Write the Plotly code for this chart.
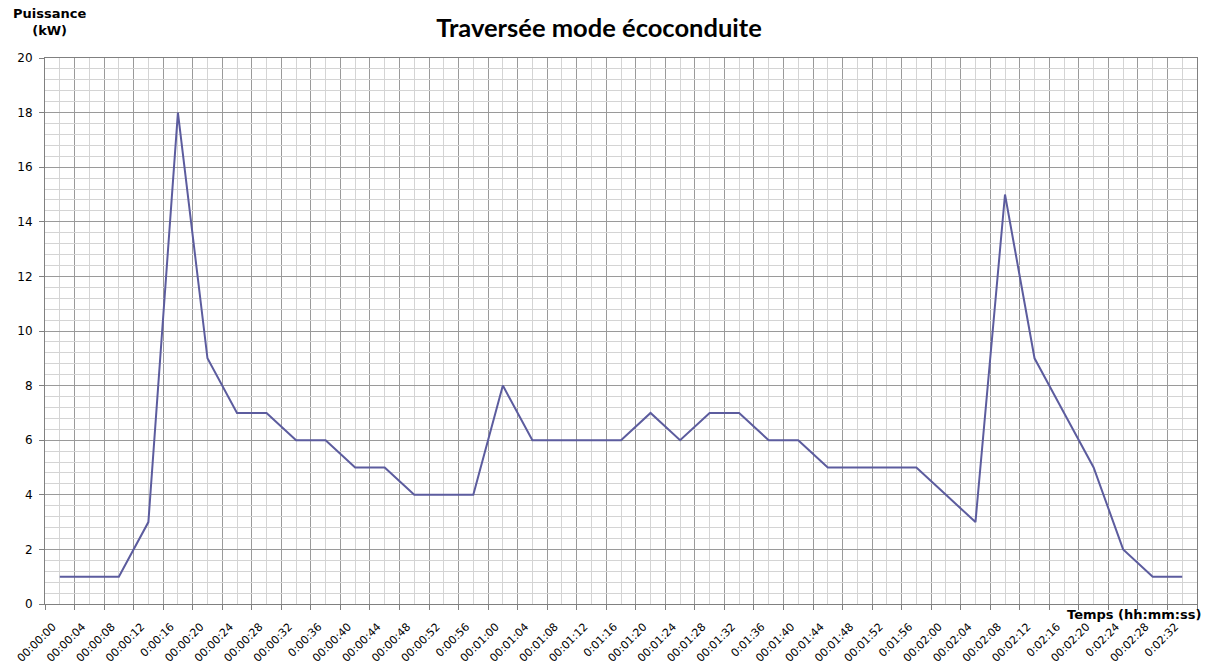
import plotly.graph_objects as go

labels = ["00:00:00", "00:00:04", "00:00:08", "00:00:12", "0:00:16", "00:00:20", "00:00:24",
          "00:00:28", "00:00:32", "0:00:36", "00:00:40", "00:00:44", "00:00:48", "00:00:52",
          "0:00:56", "00:01:00", "00:01:04", "00:01:08", "00:01:12", "0:01:16", "00:01:20",
          "00:01:24", "00:01:28", "00:01:32", "0:01:36", "00:01:40", "00:01:44", "00:01:48",
          "00:01:52", "0:01:56", "00:02:00", "00:02:04", "00:02:08", "00:02:12", "0:02:16",
          "00:02:20", "0:02:24", "00:02:28", "0:02:32"]
puissance = [1, 1, 1, 3, 18, 9, 7, 7, 6, 6, 5, 5, 4, 4, 4, 8, 6, 6, 6, 6, 7, 6, 7, 7, 6, 6,
             5, 5, 5, 5, 4, 3, 15, 9, 7, 5, 2, 1, 1]

idx = list(range(len(labels)))
W, H = 1209, 670
L, R, T, B = 45, 12, 58, 66
pw, ph = W - L - R, H - T - B

fig = go.Figure()
fig.add_trace(go.Scatter(x=idx, y=puissance, mode="lines",
                         line=dict(color="#5C5C9E", width=2), hoverinfo="x+y"))

fig.update_layout(
    width=W, height=H,
    margin=dict(l=L, r=R, t=T, b=B, autoexpand=False),
    paper_bgcolor="white", plot_bgcolor="white",
    showlegend=False,
    title=dict(text="Traversée mode écoconduite", x=599 / W, xanchor="center",
               y=1 - 28 / H, yanchor="middle",
               font=dict(family="Lato", size=25.5, color="#000000", weight="bold")),
    xaxis=dict(
        range=[-0.5, len(labels) - 0.5],
        tickmode="array", tickvals=idx, ticktext=labels,
        tickangle=-45, ticks="", showgrid=True, gridcolor="#D4D4D4", gridwidth=1,
        tickfont=dict(family="DejaVu Sans", size=11, color="#000000"),
        ticklabelshift=-7, ticklabelstandoff=11,
        minor=dict(tickmode="array", tickvals=[i - 0.5 for i in range(len(labels) + 1)],
                   showgrid=True, gridcolor="#9A9A9A", gridwidth=1,
                   ticks="outside", ticklen=5, tickcolor="#808080"),
        showline=True, linecolor="#808080", linewidth=1, mirror=True,
        zeroline=False, automargin=False, fixedrange=True,
    ),
    yaxis=dict(
        range=[0, 20], tickmode="linear", tick0=0, dtick=2,
        ticks="outside", ticklen=5, tickcolor="#808080",
        showgrid=True, gridcolor="#9A9A9A", gridwidth=1,
        tickfont=dict(family="DejaVu Sans", size=12, color="#000000"),
        ticklabelstandoff=4,
        minor=dict(dtick=0.4, tick0=0, showgrid=True, gridcolor="#D4D4D4", gridwidth=1),
        showline=True, linecolor="#808080", linewidth=1, mirror=True,
        zeroline=False, automargin=False, fixedrange=True,
    ),
)

fig.add_annotation(text="Puissance<br>(kW)", xref="paper", yref="paper",
                   x=(49 - L) / pw, y=1 + (T - 4) / ph, xanchor="center", yanchor="top",
                   showarrow=False, align="center",
                   font=dict(family="DejaVu Sans", size=13, color="#000000", weight="bold"))
fig.add_annotation(text="Temps (hh:mm:ss)", xref="paper", yref="paper",
                   x=(1203 - L) / pw, y=-(614 - (T + ph)) / ph, xanchor="right", yanchor="middle",
                   showarrow=False,
                   font=dict(family="DejaVu Sans", size=13, color="#000000", weight="bold"))

fig.write_html("out.html", config={"displayModeBar": False},
               post_script="document.body.style.margin='0px';")
